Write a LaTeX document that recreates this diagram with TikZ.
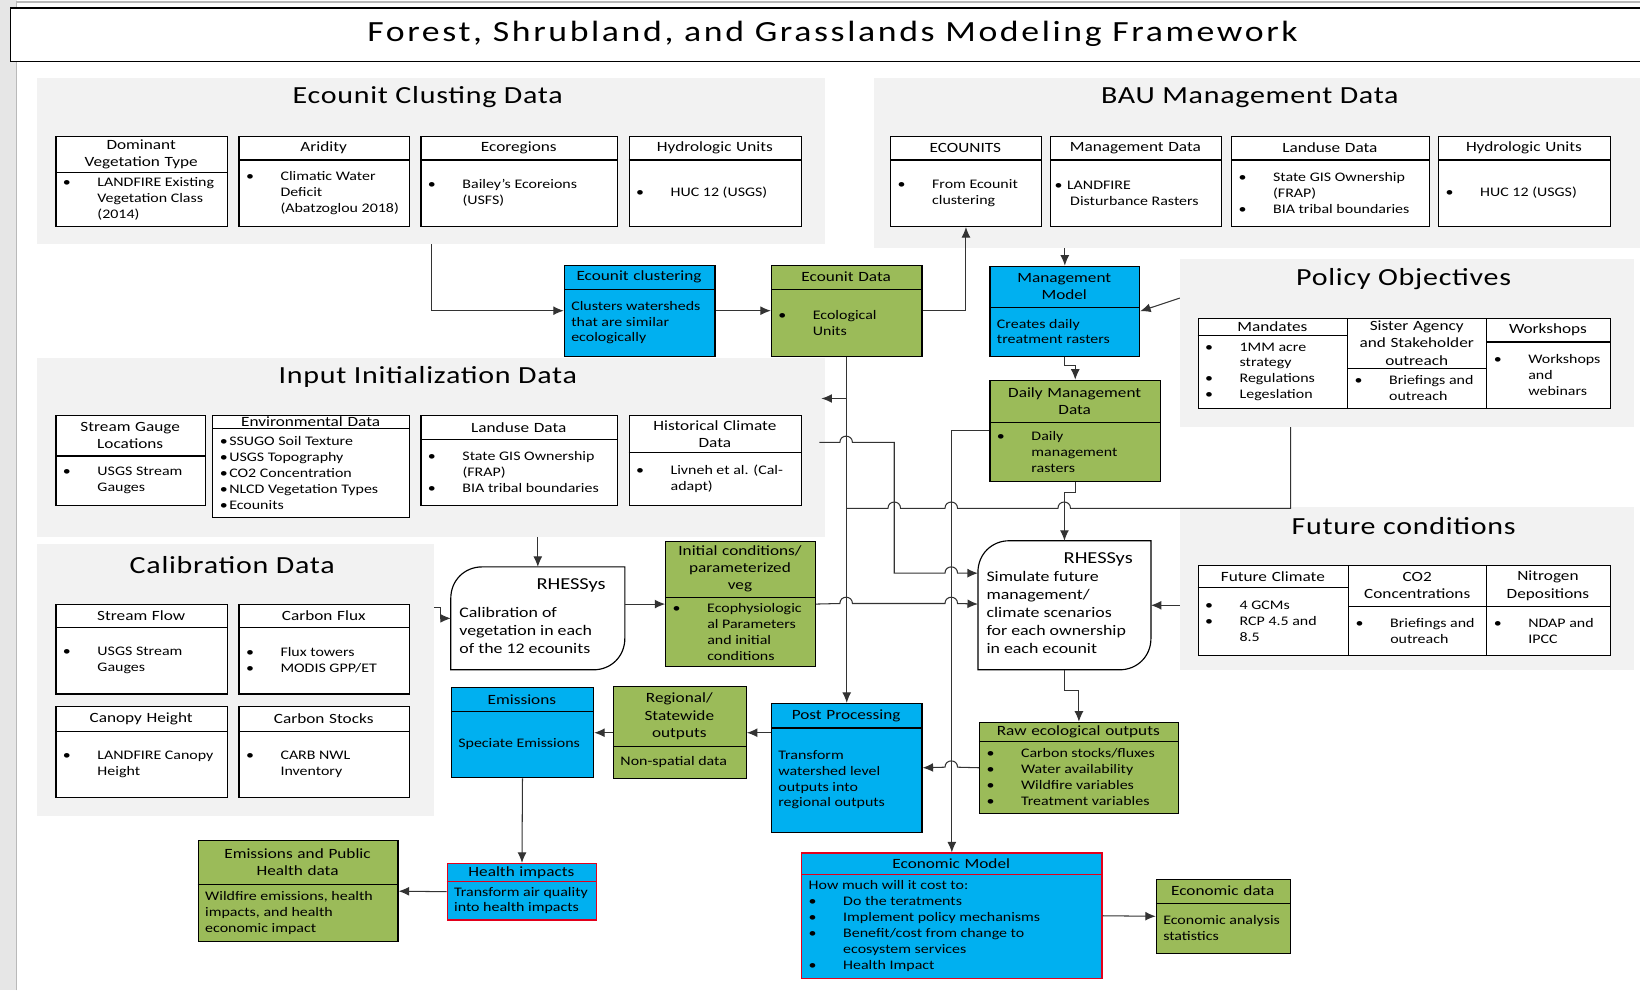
\documentclass[tikz,border=0pt]{standalone}
\usepackage{fontspec}
\setmainfont{Carlito}[FakeStretch=1.22]
\newfontfamily\ttlfont{Carlito}[FakeStretch=1.22,LetterSpace=9]
\newfontfamily\ptlfont{Carlito}[FakeStretch=1.22,LetterSpace=3]
\usetikzlibrary{arrows.meta,calc}
\definecolor{bl}{HTML}{00B0F0}
\definecolor{gr}{HTML}{9BBB59}
\definecolor{pn}{HTML}{F2F2F2}
\definecolor{rd}{HTML}{E3001B}
\definecolor{ln}{HTML}{333333}
\definecolor{edge}{HTML}{E6E6E6}
\tikzset{
  panel/.style={fill=pn, draw=none, anchor=north west, inner sep=0},
  ptitle/.style={font=\ptlfont\fontsize{23.5}{27}\selectfont, inner sep=0},
  wbox/.style={draw=black, fill=white, line width=1.1pt, inner sep=0},
  bbox/.style={draw=black, fill=bl, line width=1.1pt, inner sep=0},
  gbox/.style={draw=black, fill=gr, line width=1.1pt, inner sep=0},
  rbox/.style={draw=rd, fill=bl, line width=1.1pt, inner sep=0},
  hd/.style={align=center, font=\fontsize{13.5}{16.5}\selectfont, inner sep=0},
  bd/.style={align=left, font=\fontsize{12.5}{15.2}\selectfont, inner sep=2pt, anchor=west},
  arr/.style={draw=ln, line width=1pt, -{Latex[length=10pt,width=8.5pt]}},
  cn/.style={draw=ln, line width=1pt},
  rhtitle/.style={font=\fontsize{16}{18}\selectfont, inner sep=0},
  rhbody/.style={align=left, font=\fontsize{14}{17.3}\selectfont, inner sep=0, anchor=north west}
}
\newcommand\bl{\makebox[33pt][l]{\textbullet}}
\newcommand\nb{\hspace*{33pt}}
\newcommand\mkbox[9]{%
  \node[#7, minimum width={(#4-(#2))*1pt}, minimum height={(#6-(#3))*1pt}, anchor=north west] (#1) at (#2,#3) {};
  \draw[#7, fill=none] (#2,#5) -- (#4,#5);
  \node[hd, text width={(#4-(#2)-6)*1pt}] at ({(#2+#4)/2},{(#3+#5)/2}) {#8};
  \node[bd] at ({#2+5},{(#5+#6)/2}) {#9};
}
\newcommand\hopR[2]{-- ({#1-6},#2) .. controls ({#1-6},{#2-8}) and ({#1+6},{#2-8}) .. ({#1+6},#2)}
\newcommand\hopL[2]{-- ({#1+6},#2) .. controls ({#1+6},{#2-8}) and ({#1-6},{#2-8}) .. ({#1-6},#2)}
\newcommand\rhshape[1]{%
  \draw[line width=1.1pt, fill=white] ($(#1.north west)+(0,30)$) .. controls ($(#1.north west)+(0,13)$) and ($(#1.north west)+(13,0)$) .. ($(#1.north west)+(30,0)$) -- (#1.north east) -- ($(#1.south east)+(0,-30)$) .. controls ($(#1.south east)+(0,-13)$) and ($(#1.south east)+(-13,0)$) .. ($(#1.south east)+(-30,0)$) -- (#1.south west) -- cycle;}
\begin{document}
\begin{tikzpicture}[x=1pt,y=-1pt]
\useasboundingbox (0,0) rectangle (1568,947);
\fill[white] (0,0) rectangle (1568,947);
% page edges
\fill[edge] (0,0) rectangle (16,947);
\draw[gray!55, line width=1.2pt] (16,947) -- (16,2) -- (1568,2);
% title
\node[draw=black, line width=1.3pt, fill=white, minimum width=1570pt, minimum height=51pt, anchor=north west, inner sep=0] (ttlbox) at (9.5,7) {};
\node[font=\ttlfont\fontsize{28}{32}\selectfont, inner sep=0] (ttl) at (796,32) {Forest, Shrubland, and Grasslands Modeling Framework};
% panels
\node[panel, minimum width=754pt, minimum height=159pt] (ecpanel) at (35,74) {};
\node[panel, minimum width=740pt, minimum height=163pt] (baupanel) at (835,74) {};
\node[panel, minimum width=434pt, minimum height=161pt] (polpanel) at (1128,247) {};
\node[panel, minimum width=754pt, minimum height=171pt] (inpanel) at (35,342) {};
\node[panel, minimum width=380pt, minimum height=260pt] (calpanel) at (35,520) {};
\node[panel, minimum width=434pt, minimum height=155pt] (futpanel) at (1128,485) {};
\node[ptitle] (t1) at (409,93) {Ecounit Clusting Data};
\node[ptitle] (t2) at (1195,93) {BAU Management Data};
\node[ptitle] (t3) at (1342,267) {Policy Objectives};
\node[ptitle] (t4) at (409,360) {Input Initialization Data};
\node[ptitle] (t5) at (222,540) {Calibration Data};
\node[ptitle] (t6) at (1342,503) {Future conditions};
% Ecounit clusting data
\mkbox{domveg}{53}{130}{217}{165}{216}{wbox}{Dominant\\Vegetation Type}{\bl LANDFIRE Existing\\\nb Vegetation Class\\\nb (2014)}
\mkbox{arid}{228}{130}{391}{153}{216}{wbox}{Aridity}{\bl Climatic Water\\\nb Deficit\\\nb (Abatzoglou 2018)}
\mkbox{ecoreg}{402}{130}{590}{153}{216}{wbox}{Ecoregions}{\bl Bailey’s Ecoreions\\\nb (USFS)}
\mkbox{hucA}{601}{130}{766}{153}{216}{wbox}{Hydrologic Units}{\bl HUC 12 (USGS)}
% BAU
\mkbox{ecounits}{851}{130}{995}{153}{216}{wbox}{ECOUNITS}{\bl From Ecounit\\\nb clustering}
\mkbox{mgmtd}{1004}{130}{1167}{153}{216}{wbox}{Management Data}{\hspace*{-3pt}\makebox[12pt][l]{\textbullet}LANDFIRE\\\hspace*{12pt}Disturbance Rasters}
\mkbox{landA}{1177}{130}{1366}{153}{216}{wbox}{Landuse Data}{\bl State GIS Ownership\\\nb (FRAP)\\\bl BIA tribal boundaries}
\mkbox{hucB}{1375}{130}{1539}{153}{216}{wbox}{Hydrologic Units}{\bl HUC 12 (USGS)}
% colored models
\mkbox{clust}{539}{253}{683}{277}{340}{bbox}{Ecounit clustering}{Clusters watersheds\\that are similar\\ecologically}
\mkbox{ecdata}{737}{253}{881}{277}{340}{gbox}{Ecounit Data}{\bl Ecological\\\nb Units}
\mkbox{mgmtm}{946}{254}{1089}{294}{340}{bbox}{Management\\Model}{Creates daily\\treatment rasters}
\mkbox{daily}{946}{363}{1109}{404}{460}{gbox}{Daily Management\\Data}{\bl Daily\\\nb management\\\nb rasters}
% Input initialization
\mkbox{sgl}{53}{397}{196}{436}{483}{wbox}{Stream Gauge\\Locations}{\bl USGS Stream\\\nb Gauges}
\mkbox{envd}{203}{397}{391}{410}{494}{wbox}{Environmental Data}{\makebox[9pt][l]{\textbullet}SSUGO Soil Texture\\\makebox[9pt][l]{\textbullet}USGS Topography\\\makebox[9pt][l]{\textbullet}CO2 Concentration\\\makebox[9pt][l]{\textbullet}NLCD Vegetation Types\\\makebox[9pt][l]{\textbullet}Ecounits}
\mkbox{landB}{402}{397}{590}{420}{483}{wbox}{Landuse Data}{\bl State GIS Ownership\\\nb (FRAP)\\\bl BIA tribal boundaries}
\mkbox{histc}{601}{397}{766}{433}{483}{wbox}{Historical Climate\\Data}{\bl Livneh et al. (Cal-\\\nb adapt)}
% Calibration
\mkbox{sflow}{53}{577}{217}{600}{663}{wbox}{Stream Flow}{\bl USGS Stream\\\nb Gauges}
\mkbox{cflux}{228}{577}{391}{600}{663}{wbox}{Carbon Flux}{\bl Flux towers\\\bl MODIS GPP/ET}
\mkbox{canopy}{53}{675}{217}{699}{762}{wbox}{Canopy Height}{\bl LANDFIRE Canopy\\\nb Height}
\mkbox{cstock}{228}{675}{391}{699}{762}{wbox}{Carbon Stocks}{\bl CARB NWL\\\nb Inventory}
% Policy objectives
\mkbox{mand}{1145}{304}{1288}{321}{390}{wbox}{Mandates}{\bl 1MM acre\\\nb strategy\\\bl Regulations\\\bl Legeslation}
\mkbox{sister}{1288}{304}{1421}{352}{390}{wbox}{Sister Agency\\and Stakeholder\\outreach}{\bl Briefings and\\\nb outreach}
\mkbox{wshop}{1421}{304}{1539}{327}{390}{wbox}{Workshops}{\bl Workshops\\\nb and\\\nb webinars}
% Future conditions
\mkbox{fclim}{1145}{540}{1289}{562}{626}{wbox}{Future Climate}{\bl 4 GCMs\\\bl RCP 4.5 and\\\nb 8.5}
\mkbox{cotwo}{1289}{540}{1421}{580}{626}{wbox}{CO2\\Concentrations}{\bl Briefings and\\\nb outreach}
\mkbox{nitro}{1421}{540}{1539}{580}{626}{wbox}{Nitrogen\\Depositions}{\bl NDAP and\\\nb IPCC}
% RHESSys calibration
\node[minimum width=166pt, minimum height=98pt, anchor=north west, inner sep=0] (rh1) at (431,542) {};
\rhshape{rh1}
\node[rhtitle] (rh1t) at (546,560) {RHESSys};
\node[rhbody] (rh1b) at (439,580) {Calibration of\\vegetation in each\\of the 12 ecounits};
% RHESSys future
\node[minimum width=165pt, minimum height=123pt, anchor=north west, inner sep=0] (rh2) at (935,517) {};
\rhshape{rh2}
\node[rhtitle] (rh2t) at (1050,535) {RHESSys};
\node[rhbody] (rh2b) at (943,546) {Simulate future\\management/\\climate scenarios\\for each ownership\\in each ecounit};
% other boxes
\mkbox{init}{636}{517}{779}{571}{637}{gbox}{Initial conditions/\\parameterized\\veg}{\bl Ecophysiologic\\\nb al Parameters\\\nb and initial\\\nb conditions}
\mkbox{raw}{936}{690}{1126}{709}{777}{gbox}{Raw ecological outputs}{\bl Carbon stocks/fluxes\\\bl Water availability\\\bl Wildfire variables\\\bl Treatment variables}
\mkbox{post}{737}{672}{881}{696}{795}{bbox}{Post Processing}{Transform\\watershed level\\outputs into\\regional outputs}
\mkbox{reg}{586}{656}{713}{714}{744}{gbox}{Regional/\\Statewide\\outputs}{Non-spatial data}
\mkbox{emis}{431}{657}{567}{680}{743}{bbox}{Emissions}{Speciate Emissions}
\mkbox{health}{427}{825}{570}{843}{879}{rbox}{Health impacts}{Transform air quality\\into health impacts}
\mkbox{ephd}{189}{803}{380}{846}{900}{gbox}{Emissions and Public\\Health data}{Wildfire emissions, health\\impacts, and health\\economic impact}
\mkbox{econ}{766}{815}{1053}{836}{935}{rbox}{Economic Model}{How much will it cost to:\\\bl Do the teratments\\\bl Implement policy mechanisms\\\bl Benefit/cost from change to\\\nb ecosystem services\\\bl Health Impact}
\mkbox{ecdat}{1105}{840}{1233}{864}{911}{gbox}{Economic data}{Economic analysis\\statistics}
% connectors
\draw[arr] (ecpanel.south) |- (clust.west);
\draw[arr] (clust.east) -- (ecdata.west);
\draw[arr] (ecdata.east) -| (ecounits.south);
\draw[arr] (mgmtm.north |- baupanel.south) -- (mgmtm.north);
\draw[arr] ($(polpanel.north west)+(0,38)$) -- (mgmtm.east);
\draw[arr] (mgmtm.south) -- ++(0,8) -| (daily.north);
\draw[arr] (ecdata.south) -- (post.north);
\draw[arr] (ecdata.south |- 0,381) -- ($(inpanel.east |- 0,381)+(-4,0)$);
\draw[cn] (polpanel.south -| 1234,0) -- (1234,486) \hopL{1017.5}{486} \hopL{909.5}{486} \hopL{855}{486} -- (ecdata.south |- 0,486);
\draw[arr] ($(inpanel.east |- 0,423)+(-6,0)$) \hopR{809}{423} -- (855,423) -- (855,548) \hopR{909.5}{548} -- (rh2.west |- 0,548);
\draw[arr] (daily.west |- 0,412) -| (econ.north);
\draw[arr] (daily.south) -- ++(0,10) -| (rh2.north);
\draw[arr] (init.east) \hopR{809}{577} \hopR{909.5}{577} -- (rh2.west |- init.east);
\draw[arr] (rh1.east |- init.west) -- (init.west);
\draw[arr] (rh1.north |- inpanel.south) -- (rh1.north);
\draw[arr] (calpanel.east |- 0,581) -- ++(6,0) |- (rh1.west);
\draw[arr] (futpanel.west |- rh2.east) -- (rh2.east);
\draw[arr] (rh2.south) -- ++(0,20) -| (raw.north);
\draw[arr] (raw.west) \hopL{909.5}{733.5} -- (post.east);
\draw[arr] (post.west |- reg.east) -- (reg.east);
\draw[arr] (reg.west) -- (emis.east);
\draw[arr] (emis.south) -- (health.north);
\draw[arr] (health.west) -- (ephd.east);
\draw[arr] (econ.east) -- (ecdat.west);
\end{tikzpicture}
\end{document}
